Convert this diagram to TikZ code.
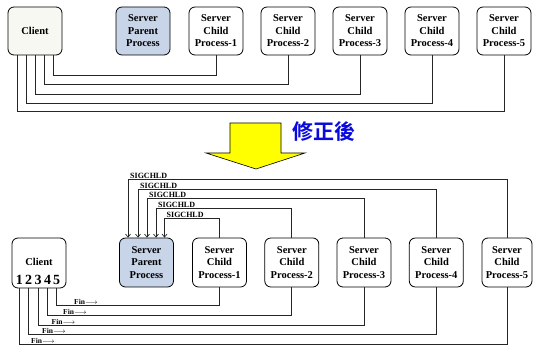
\documentclass[tikz,border=0pt]{standalone}
\usepackage{fontspec}
\setmainfont{Liberation Serif}
\newfontfamily\cjkfont{Noto Sans CJK TC Bold}
\usetikzlibrary{arrows.meta}
\definecolor{clientfill}{RGB}{248,248,243}
\definecolor{parentfill}{RGB}{200,213,233}
\definecolor{cjkblue}{RGB}{10,10,220}
\definecolor{arrowyellow}{RGB}{255,255,0}
\begin{document}
\begin{tikzpicture}[x=1pt,y=-1pt,
  procbox/.style={draw, line width=0.8pt, rounded corners=6pt, minimum width=54pt, minimum height=48pt, align=center, font=\fontsize{10.5}{12.5}\selectfont\bfseries, inner sep=1pt},
  wire/.style={line width=0.7pt, draw=black!85},
  sig/.style={wire, -{Straight Barb[length=3pt,width=5pt]}},
  siglabel/.style={font=\fontsize{8}{8}\selectfont\bfseries, inner sep=0.5pt, anchor=south west},
  finlabel/.style={font=\fontsize{7.5}{7.5}\selectfont\bfseries, inner sep=0.5pt, anchor=south west},
  digit/.style={font=\fontsize{14}{14}\selectfont\bfseries, inner sep=0pt}
]
\useasboundingbox (0,0) rectangle (533,347);

% ---------- top section ----------
\node[procbox, fill=clientfill] (tc) at (35,31) {Client};
\node[procbox, fill=parentfill] (tp) at (143,31) {Server\\Parent\\Process};
\foreach \i/\x in {1/216,2/288,3/360,4/432,5/504}
  \node[procbox, fill=white] (tch\i) at (\x,31) {Server\\Child\\Process-\i};

\draw[wire] ([xshift=18pt]tc.south) -- ++(0,20) -| (tch1.south);
\draw[wire] ([xshift=9pt]tc.south) -- ++(0,29) -| (tch2.south);
\draw[wire] (tc.south) -- ++(0,39) -| (tch3.south);
\draw[wire] ([xshift=-9pt]tc.south) -- ++(0,48) -| (tch4.south);
\draw[wire] ([xshift=-18pt]tc.south) -- ++(0,56) -| (tch5.south);

% ---------- arrow ----------
\draw[fill=arrowyellow, line width=0.6pt] (230,123) -- (281,123) -- (281,153) -- (305,153) -- (256,169) -- (206,153) -- (230,153) -- cycle;
\node[text=cjkblue, font=\cjkfont\fontsize{21}{21}\selectfont, inner sep=0pt] (fix) at (324,132) {修正後};

% ---------- bottom section ----------
\node[procbox, fill=white, minimum height=50pt] (bc) at (39,263) {};
\node[font=\fontsize{10.5}{12.5}\selectfont\bfseries, inner sep=0pt] (bclabel) at (39,262) {Client};
\foreach \i/\x in {1/19.5,2/28.5,3/38,4/47.5,5/56.5}
  \node[digit] (d\i) at (\x,280) {\i};

\node[procbox, fill=parentfill, minimum height=49pt] (bp) at (146.5,262.5) {Server\\Parent\\Process};
\foreach \i/\x in {1/219.5,2/291.8,3/364,4/436.3}
  \node[procbox, fill=white, minimum height=49pt] (bch\i) at (\x,262.5) {Server\\Child\\Process-\i};
\node[procbox, fill=white, minimum height=49pt, minimum width=50pt] (bch5) at (507,262.5) {Server\\Child\\Process-5};

% SIGCHLD connectors
\draw[sig] (bch1.north) -- ++(0,-19) coordinate (k1) -| ([xshift=18pt]bp.north) coordinate (a1);
\draw[sig] (bch2.north) -- ++(0,-29) coordinate (k2) -| ([xshift=9.5pt]bp.north) coordinate (a2);
\draw[sig] (bch3.north) -- ++(0,-39) coordinate (k3) -| ([xshift=0.5pt]bp.north) coordinate (a3);
\draw[sig] (bch4.north) -- ++(0,-48) coordinate (k4) -| ([xshift=-8.5pt]bp.north) coordinate (a4);
\draw[sig] (bch5.north) -- ++(0,-58) coordinate (k5) -| ([xshift=-18.5pt]bp.north) coordinate (a5);
\foreach \i in {1,...,5}
  \node[siglabel] (sl\i) at ([xshift=1.5pt]k\i -| a\i) {SIGCHLD};

% Fin connectors
\draw[wire] (d5 |- bc.south) -- ++(0,17) coordinate (f5) -| (bch1.south);
\draw[wire] (d4 |- bc.south) -- ++(0,27) coordinate (f4) -| (bch2.south);
\draw[wire] (d3 |- bc.south) -- ++(0,37) coordinate (f3) -| (bch3.south);
\draw[wire] (d2 |- bc.south) -- ++(0,46) coordinate (f2) -| (bch4.south);
\draw[wire] (d1 |- bc.south) -- ++(0,56) coordinate (f1) -| (bch5.south);
\node[finlabel] (fl5) at ([xshift=17pt]f5) {Fin$\longrightarrow$};
\node[finlabel] (fl4) at ([xshift=15pt]f4) {Fin$\longrightarrow$};
\node[finlabel] (fl3) at ([xshift=13pt]f3) {Fin$\longrightarrow$};
\node[finlabel] (fl2) at ([xshift=13pt]f2) {Fin$\longrightarrow$};
\node[finlabel] (fl1) at ([xshift=11pt]f1) {Fin$\longrightarrow$};
\end{tikzpicture}
\end{document}
